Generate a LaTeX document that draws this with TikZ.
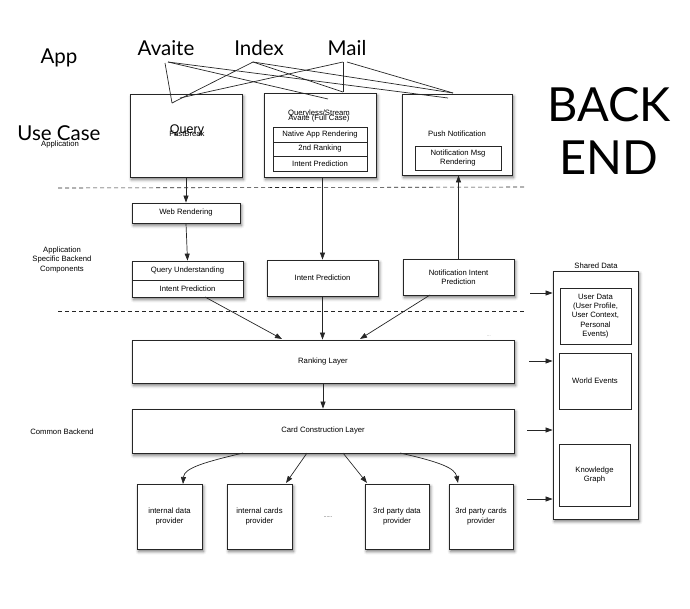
\documentclass[tikz,border=0pt]{standalone}
\usepackage{fontspec}
\setmainfont{Liberation Sans}
\newfontfamily\gill{Lato}
\usetikzlibrary{arrows.meta,shadows.blur,calc}
\begin{document}
\begin{tikzpicture}[x=1pt,y=-1pt,
  tf/.style={font=\fontsize{7.7}{9.2}\selectfont},
  big/.style={font=\gill\fontsize{20.5}{24}\selectfont},
  box/.style={draw=black!85, line width=0.8pt, fill=white, inner sep=1pt, align=center, tf,
    blur shadow={shadow xshift=1.5pt, shadow yshift=-2.5pt, shadow blur radius=3pt, shadow opacity=55}},
  ibox/.style={draw=black!85, line width=0.7pt, fill=white, inner sep=1pt, align=center, tf},
  lbl/.style={inner sep=0pt, align=center, tf},
  arr/.style={-{Triangle[length=7pt,width=5pt]}, line width=0.7pt, draw=black!85},
  ln/.style={line width=0.7pt, draw=black!85},
  sepline/.style={dashed, dash pattern=on 4pt off 3pt, line width=0.6pt, draw=black!85}]
\useasboundingbox (0,0) rectangle (690,608);

% top labels
\node[big] (app) at (59,58) {App};
\node[big] (usecase) at (59,133) {Use Case};
\node[lbl] (application) at (60,145) {Application};
\node[big] (avaite) at (166,48) {Avaite};
\node[big] (index) at (259,48) {Index};
\node[big] (mail) at (347,48) {Mail};
\node[font=\gill\fontsize{47}{54}\selectfont, inner sep=0pt] (back) at (609,105) {BACK};
\node[font=\gill\fontsize{47}{54}\selectfont, inner sep=0pt] (end) at (609,158) {END};

% use case boxes
\node[box, minimum width=112pt, minimum height=83pt] (query) at (186,135.5) {};
\node[lbl, font=\fontsize{12.5}{14}\selectfont] (querytxt) at (187,130) {Query};
\node[lbl] (fastbreak) at (187,133.5) {FastBreak};

\node[box, minimum width=112pt, minimum height=84pt] (qless) at (320,135) {};
\node[lbl] (qlesstxt) at (319,114) {Queryless/Stream};
\node[lbl] (avfull) at (319,118.5) {Avaite (Full Case)};
\node[ibox, minimum width=94pt, minimum height=15pt] (native) at (320,134.5) {Native App Rendering};
\node[ibox, minimum width=94pt, minimum height=14pt] (rank2) at (320,149) {2nd Ranking};
\node[ibox, minimum width=94pt, minimum height=15pt] (intent1) at (320,163.5) {Intent Prediction};

\node[box, minimum width=110pt, minimum height=81pt] (push) at (457,134.5) {};
\node[lbl] (pushtxt) at (457,134) {Push Notification};
\node[ibox, minimum width=86pt, minimum height=24pt] (notmsg) at (458,158) {Notification Msg\\Rendering};

% app -> use case lines
\coordinate (aS) at (165,63);
\coordinate (aS2) at (168,62);
\coordinate (iS) at (253,62);
\coordinate (mS) at (343,62);
\coordinate (mS2) at (347,62);
\coordinate (qA) at (172,103);
\coordinate (qI) at (172,103);
\coordinate (qM) at (180,98);
\coordinate (lA) at (328,99);
\coordinate (lIM) at (343,92);
\coordinate (pA) at (448,98);
\coordinate (pIM) at (453,93);
\draw[ln] (aS) -- (qA);
\draw[ln] (aS2) -- (lA);
\draw[ln] (aS2) -- (pA);
\draw[ln] (iS) -- (qI);
\draw[ln] (iS) -- (lIM);
\draw[ln] (iS) -- (pIM);
\draw[ln] (mS) -- (qM);
\draw[ln] (mS) -- (lIM);
\draw[ln] (mS2) -- (pIM);

% dashed separators
\coordinate (d1a) at (58,188);
\coordinate (d1b) at (525,187);
\coordinate (d2a) at (58,311);
\coordinate (d2b) at (525,311);
\draw[sepline] (d1a) -- (d1b);
\draw[sepline] (d2a) -- (d2b);

% side labels
\node[lbl] (asbc) at (62,260) {Application\\Specific Backend\\Components};
\node[lbl] (common) at (62,432) {Common Backend};

% application specific components
\node[box, minimum width=108pt, minimum height=20pt] (web) at (186,213) {Web Rendering};
\node[box, minimum width=111pt, minimum height=36pt] (qubox) at (187.5,279) {};
\node[ibox, minimum width=111pt, minimum height=19pt] (qu) at (187.5,270.5) {Query Understanding};
\node[ibox, minimum width=111pt, minimum height=17pt] (ip1) at (187.5,288.5) {Intent Prediction};
\node[box, minimum width=111pt, minimum height=36pt] (ip2) at (322.5,278) {Intent Prediction};
\node[box, minimum width=111pt, minimum height=36pt] (nip) at (458.5,277) {Notification Intent\\Prediction};

\draw[arr] (query.south) -- (web.north);
\draw[arr] (web.south) -- (qubox.north);
\draw[arr] (qless.south -| ip2.north) -- (ip2.north);
\draw[arr] (nip.north) -- (push.south -| nip.north);

% layers
\node[box, minimum width=382pt, minimum height=43pt] (ranking) at (323,361.5) {Ranking Layer};
\node[box, minimum width=382pt, minimum height=44pt] (card) at (323,431) {Card Construction Layer};
\node[lbl, font=\fontsize{4}{5}\selectfont, text=black!60] (rdots) at (489,336) {...};

\coordinate (ipOut) at (205,297);
\coordinate (rIn1) at (282,339);
\coordinate (nipOut) at (430,295);
\coordinate (rIn3) at (360,339);
\draw[arr] (ipOut) -- (rIn1);
\draw[arr] (ip2.south) -- (ranking.north -| ip2.south);
\draw[arr] (nipOut) -- (rIn3);
\draw[arr] (ranking.south) -- (card.north);

% providers
\node[box, minimum width=65pt, minimum height=65pt] (p1) at (169.5,516.5) {internal data\\provider};
\node[box, minimum width=65pt, minimum height=65pt] (p2) at (259.5,516.5) {internal cards\\provider};
\node[lbl, font=\fontsize{5}{6}\selectfont] (pdots) at (328,517) {......};
\node[box, minimum width=64pt, minimum height=65pt] (p3) at (397,516.5) {3rd party data\\provider};
\node[box, minimum width=64pt, minimum height=65pt] (p4) at (481,516.5) {3rd party cards\\provider};

\coordinate (c1) at (243,453);
\coordinate (c2) at (307,453);
\coordinate (c3) at (343,453);
\coordinate (c4) at (400,453);
\coordinate (t1) at (183,484);
\coordinate (t2) at (286,483);
\coordinate (t3) at (367,483);
\coordinate (t4) at (458,483);
\draw[arr] (c1) .. controls (205,462) and (184,468) .. (t1);
\draw[arr] (c2) -- (t2);
\draw[arr] (c3) -- (t3);
\draw[arr] (c4) .. controls (440,462) and (455,468) .. (t4);

% shared data
\node[box, minimum width=85pt, minimum height=248pt] (shared) at (595.5,395) {};
\node[lbl] (sharedtxt) at (596,266) {Shared Data};
\node[ibox, minimum width=71pt, minimum height=56pt] (ud) at (595.5,316) {User Data\\(User Profile,\\User Context,\\Personal\\Events)};
\node[ibox, minimum width=72pt, minimum height=56pt] (we) at (595,381) {World Events};
\node[ibox, minimum width=71pt, minimum height=62pt] (kg) at (594.5,475) {Knowledge\\Graph};

\coordinate (s1) at (530,293);
\coordinate (s2) at (529,361);
\coordinate (s3) at (527,430);
\coordinate (s4) at (527,499);
\draw[arr] (s1) -- (shared.west |- s1);
\draw[arr] (s2) -- (shared.west |- s2);
\draw[arr] (s3) -- (shared.west |- s3);
\draw[arr] (s4) -- (shared.west |- s4);
\end{tikzpicture}
\end{document}
